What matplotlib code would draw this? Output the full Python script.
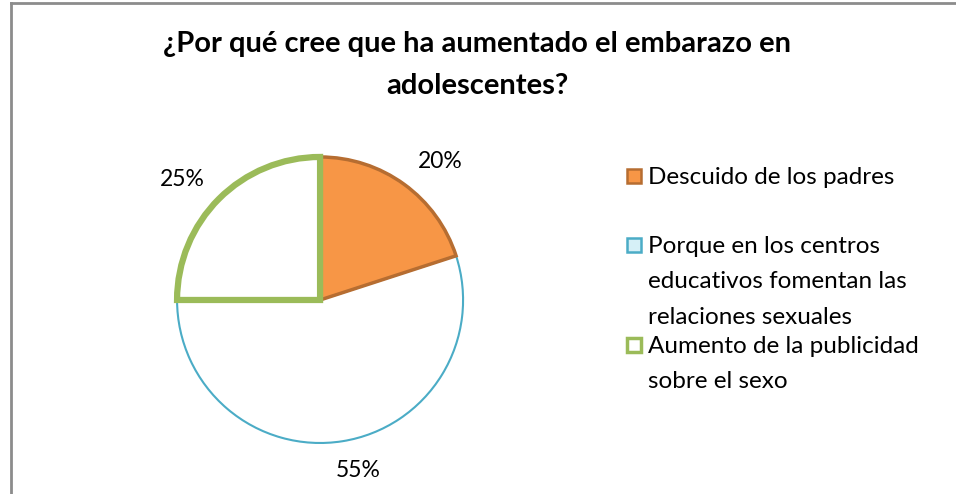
import matplotlib
matplotlib.use("Agg")
import matplotlib.pyplot as plt
from matplotlib.patches import Rectangle
from matplotlib.lines import Line2D

plt.rcParams['font.family'] = ['Lato', 'DejaVu Sans']

title = "¿Por qué cree que ha aumentado el embarazo en\nadolescentes?"
labels = ["Descuido de los padres",
          "Porque en los centros\neducativos fomentan las\nrelaciones sexuales",
          "Aumento de la publicidad\nsobre el sexo"]
values = [20, 55, 25]
fills = ["#F79646", "white", "white"]
edges = ["#B66D31", "#4BACC6", "#9BBB59"]
widths = [2.5, 1.5, 4.5]
legend_fills = ["#F79646", "#D6F0F7", "white"]
# label positions in pie radius units
label_pos = [(0.84, 0.965), (0.266, -1.19), (-0.965, 0.84)]

fig = plt.figure(figsize=[9.56, 4.94], dpi=100)

# frame lines (left and top only)
fig.add_artist(Line2D([11 / 956, 11 / 956], [0, 1 - 3 / 494], color="#8C8C8C", lw=2))
fig.add_artist(Line2D([11 / 956, 1], [1 - 3 / 494, 1 - 3 / 494], color="#8C8C8C", lw=2))

fig.text(0.499, 1 - 65 / 494, title, ha="center", va="center", fontsize=21,
         fontweight="bold", linespacing=1.75)

ax = fig.add_axes([0.1478, 0.0309, 0.374, 0.7237])
wedges, texts, autotexts = ax.pie(values, startangle=90, counterclock=False,
                                  colors=fills, autopct="%d%%", pctdistance=1.28,
                                  textprops={"fontsize": 16.5})
for w, ec, lw in zip(wedges, edges, widths):
    w.set_edgecolor(ec)
    w.set_linewidth(lw)
    w.set_joinstyle("miter")
wedges[2].set_zorder(5)
wedges[0].set_zorder(4)
for t, p in zip(autotexts, label_pos):
    t.set_position(p)
ax.set_xlim(-1.25, 1.25)
ax.set_ylim(-1.25, 1.25)

# legend
leg_y = [176, 245, 345]
for y, lab, fc, ec in zip(leg_y, labels, legend_fills, edges):
    fig.add_artist(Rectangle((627 / 956, 1 - (y + 7) / 494), 14 / 956, 14 / 494,
                             facecolor=fc, edgecolor=ec, lw=2.5 if ec == "#9BBB59" else 1.8,
                             transform=fig.transFigure))
    fig.text(648 / 956, 1 - (y - 9) / 494, lab, ha="left", va="top", fontsize=17.5,
             linespacing=1.85)

fig.savefig("out.png", dpi=100)
